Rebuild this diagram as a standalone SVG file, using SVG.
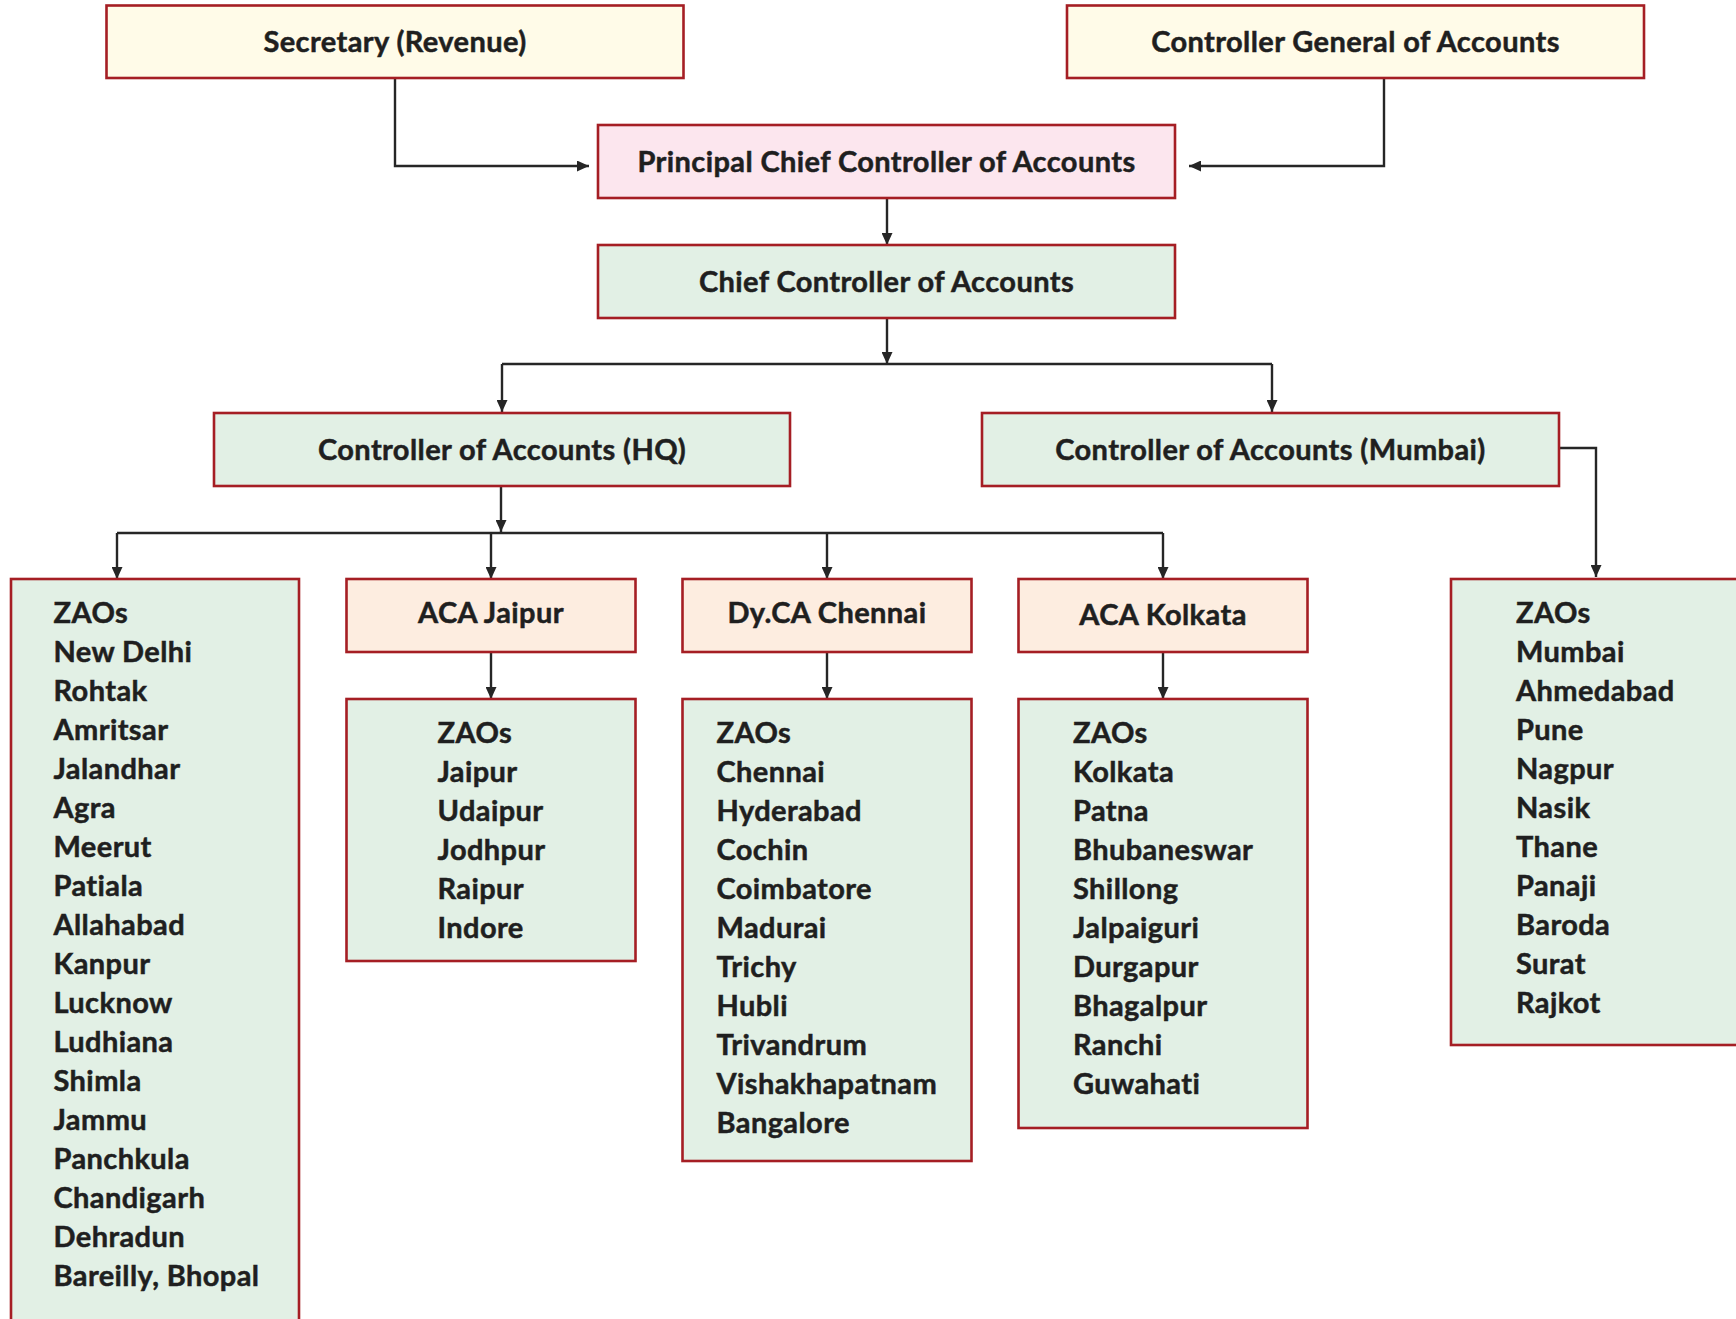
<svg xmlns="http://www.w3.org/2000/svg" width="1736" height="1319" viewBox="0 0 1736 1319">
<defs>
<marker id="ah" markerUnits="userSpaceOnUse" markerWidth="12" markerHeight="11" refX="12" refY="5.5" orient="auto">
<path d="M0,0 L12,5.5 L0,11 z" fill="#262626"/>
</marker>
<style>
.box{stroke:#A51E24;stroke-width:2.6}
.cream{fill:#FFFBE8}
.pink{fill:#FCE6EE}
.green{fill:#E2F0E5}
.peach{fill:#FDEDE0}
.t{font-family:Lato,"Open Sans","Liberation Sans",sans-serif;font-weight:700;font-size:29px;letter-spacing:0.4px;fill:#1f1f1f;stroke:#1f1f1f;stroke-width:0.5px}
.c{text-anchor:middle}
.con{fill:none;stroke:#262626;stroke-width:2.4}
.arr{marker-end:url(#ah)}
</style>
</defs>
<rect width="1736" height="1319" fill="#ffffff"/>

<g id="connectors">
<path class="con arr" d="M395,78 V166 H589"/>
<path class="con arr" d="M1384,78 V166 H1189"/>
<path class="con arr" d="M887,198 V245"/>
<path class="con arr" d="M887,318 V364"/>
<path class="con" d="M502,364 H1272"/>
<path class="con arr" d="M502,364 V412"/>
<path class="con arr" d="M1272,364 V412"/>
<path class="con arr" d="M501,486 V532"/>
<path class="con" d="M117,533 H1163"/>
<path class="con arr" d="M117,533 V579"/>
<path class="con arr" d="M491,533 V579"/>
<path class="con arr" d="M827,533 V579"/>
<path class="con arr" d="M1163,533 V579"/>
<path class="con arr" d="M491,652 V699"/>
<path class="con arr" d="M827,652 V699"/>
<path class="con arr" d="M1163,652 V699"/>
<path class="con arr" d="M1558,448 H1596 V577"/>
</g>

<g id="secretary">
<rect class="box cream" x="106.5" y="5.5" width="577" height="72.5"/>
<text class="t c" x="395" y="51.5">Secretary (Revenue)</text>
</g>
<g id="cga">
<rect class="box cream" x="1067" y="5.5" width="577" height="72.5"/>
<text class="t c" x="1355.5" y="51.5">Controller General of Accounts</text>
</g>
<g id="pcca">
<rect class="box pink" x="598" y="125" width="577" height="73"/>
<text class="t c" x="886.5" y="171.5">Principal Chief Controller of Accounts</text>
</g>
<g id="cca">
<rect class="box green" x="598" y="245" width="577" height="73"/>
<text class="t c" x="886.5" y="291.5">Chief Controller of Accounts</text>
</g>
<g id="coa-hq">
<rect class="box green" x="214" y="413" width="576" height="73"/>
<text class="t c" x="502" y="460">Controller of Accounts (HQ)</text>
</g>
<g id="coa-mumbai">
<rect class="box green" x="982" y="413" width="577" height="73"/>
<text class="t c" x="1270.5" y="460">Controller of Accounts (Mumbai)</text>
</g>

<g id="zao-hq">
<rect class="box green" x="11" y="579" width="288" height="760"/>
<text class="t" x="53.5" y="623">ZAOs</text>
<text class="t" x="53.5" y="662">New Delhi</text>
<text class="t" x="53.5" y="701">Rohtak</text>
<text class="t" x="53.5" y="740">Amritsar</text>
<text class="t" x="53.5" y="779">Jalandhar</text>
<text class="t" x="53.5" y="818">Agra</text>
<text class="t" x="53.5" y="857">Meerut</text>
<text class="t" x="53.5" y="896">Patiala</text>
<text class="t" x="53.5" y="935">Allahabad</text>
<text class="t" x="53.5" y="974">Kanpur</text>
<text class="t" x="53.5" y="1013">Lucknow</text>
<text class="t" x="53.5" y="1052">Ludhiana</text>
<text class="t" x="53.5" y="1091">Shimla</text>
<text class="t" x="53.5" y="1130">Jammu</text>
<text class="t" x="53.5" y="1169">Panchkula</text>
<text class="t" x="53.5" y="1208">Chandigarh</text>
<text class="t" x="53.5" y="1247">Dehradun</text>
<text class="t" x="53.5" y="1286">Bareilly, Bhopal</text>
</g>

<g id="aca-jaipur">
<rect class="box peach" x="346.5" y="579" width="289" height="73"/>
<text class="t c" x="491" y="623">ACA Jaipur</text>
</g>
<g id="zao-jaipur">
<rect class="box green" x="346.5" y="699" width="289" height="262"/>
<text class="t" x="437.5" y="743">ZAOs</text>
<text class="t" x="437.5" y="782">Jaipur</text>
<text class="t" x="437.5" y="821">Udaipur</text>
<text class="t" x="437.5" y="860">Jodhpur</text>
<text class="t" x="437.5" y="899">Raipur</text>
<text class="t" x="437.5" y="938">Indore</text>
</g>

<g id="dyca-chennai">
<rect class="box peach" x="682.5" y="579" width="289" height="73"/>
<text class="t c" x="827" y="623">Dy.CA Chennai</text>
</g>
<g id="zao-chennai">
<rect class="box green" x="682.5" y="699" width="289" height="462"/>
<text class="t" x="716.5" y="743">ZAOs</text>
<text class="t" x="716.5" y="782">Chennai</text>
<text class="t" x="716.5" y="821">Hyderabad</text>
<text class="t" x="716.5" y="860">Cochin</text>
<text class="t" x="716.5" y="899">Coimbatore</text>
<text class="t" x="716.5" y="938">Madurai</text>
<text class="t" x="716.5" y="977">Trichy</text>
<text class="t" x="716.5" y="1016">Hubli</text>
<text class="t" x="716.5" y="1055">Trivandrum</text>
<text class="t" x="716.5" y="1094">Vishakhapatnam</text>
<text class="t" x="716.5" y="1133">Bangalore</text>
</g>

<g id="aca-kolkata">
<rect class="box peach" x="1018.5" y="579" width="289" height="73"/>
<text class="t c" x="1163" y="625">ACA Kolkata</text>
</g>
<g id="zao-kolkata">
<rect class="box green" x="1018.5" y="699" width="289" height="429"/>
<text class="t" x="1073" y="743">ZAOs</text>
<text class="t" x="1073" y="782">Kolkata</text>
<text class="t" x="1073" y="821">Patna</text>
<text class="t" x="1073" y="860">Bhubaneswar</text>
<text class="t" x="1073" y="899">Shillong</text>
<text class="t" x="1073" y="938">Jalpaiguri</text>
<text class="t" x="1073" y="977">Durgapur</text>
<text class="t" x="1073" y="1016">Bhagalpur</text>
<text class="t" x="1073" y="1055">Ranchi</text>
<text class="t" x="1073" y="1094">Guwahati</text>
</g>

<g id="zao-mumbai">
<rect class="box green" x="1451" y="579" width="300" height="466"/>
<text class="t" x="1516" y="623">ZAOs</text>
<text class="t" x="1516" y="662">Mumbai</text>
<text class="t" x="1516" y="701">Ahmedabad</text>
<text class="t" x="1516" y="740">Pune</text>
<text class="t" x="1516" y="779">Nagpur</text>
<text class="t" x="1516" y="818">Nasik</text>
<text class="t" x="1516" y="857">Thane</text>
<text class="t" x="1516" y="896">Panaji</text>
<text class="t" x="1516" y="935">Baroda</text>
<text class="t" x="1516" y="974">Surat</text>
<text class="t" x="1516" y="1013">Rajkot</text>
</g>
</svg>
